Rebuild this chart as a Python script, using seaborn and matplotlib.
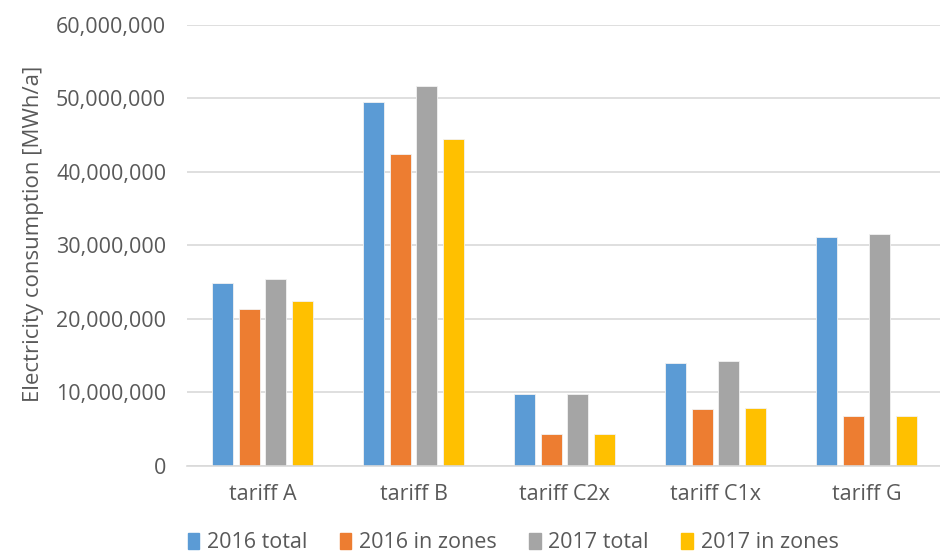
import pandas as pd
import matplotlib.pyplot as plt
import matplotlib.ticker as mticker
import seaborn as sns

# ─────────────────────────────────────────────
# data
# ─────────────────────────────────────────────
tariffs = ["tariff A", "tariff B", "tariff C2x", "tariff C1x", "tariff G"]
series_names = ["2016 total", "2016 in zones", "2017 total", "2017 in zones"]
total_2016 = [24.9e6, 49.5e6, 9.7e6, 14.0e6, 31.1e6]
zones_2016 = [21.3e6, 42.4e6, 4.3e6, 7.7e6, 6.7e6]
total_2017 = [25.4e6, 51.7e6, 9.7e6, 14.3e6, 31.5e6]
zones_2017 = [22.4e6, 44.4e6, 4.3e6, 7.9e6, 6.8e6]

colors = ["#5B9BD5", "#ED7D31", "#A5A5A5", "#FFC000"]
text_col = "#595959"
grid_col = "#D9D9D9"

rows = []
for name, vals in zip(series_names, [total_2016, zones_2016, total_2017, zones_2017]):
    for t, v in zip(tariffs, vals):
        rows.append({"tariff": t, "series": name, "value": v})
df = pd.DataFrame(rows)

sns.set_style("white")
plt.rcParams["font.family"] = ["Open Sans", "DejaVu Sans"]

fig = plt.figure(figsize=(9.4, 5.56), dpi=100)
ax = fig.add_axes([187 / 940, 90.3 / 556, 755 / 940, 441 / 556])

sns.barplot(data=df, x="tariff", y="value", hue="series", order=tariffs,
            hue_order=series_names, palette=colors, saturation=1,
            width=0.71, gap=0.22, edgecolor="#F2F2F2", linewidth=0.6,
            ax=ax, legend=False)

ax.set_ylim(0, 60e6)
ax.set_xlim(-0.5, 4.5)
ax.yaxis.set_major_locator(mticker.MultipleLocator(10e6))
ax.yaxis.set_major_formatter(mticker.FuncFormatter(lambda v, p: f"{int(v):,}"))
ax.grid(axis="y", color=grid_col, linewidth=1.2)
ax.set_axisbelow(True)
for s in ["top", "right", "left"]:
    ax.spines[s].set_visible(False)
ax.spines["bottom"].set_color(grid_col)
ax.spines["bottom"].set_linewidth(1.2)

ax.tick_params(axis="y", length=0, pad=15, labelsize=15.5, labelcolor=text_col)
ax.tick_params(axis="x", length=0, pad=13, labelsize=15.5, labelcolor=text_col)
ax.set_xlabel("")
ax.set_ylabel("Electricity consumption [MWh/a]", fontsize=16, color=text_col)
ax.yaxis.set_label_coords(-0.19, 0.525)

# legend
handles = [plt.Rectangle((0, 0), 1, 1, color=c) for c in colors]
fig.legend(handles, series_names, loc="center", bbox_to_anchor=(513 / 940, 13 / 556),
           ncol=4, frameon=False, fontsize=15.5, labelcolor=text_col,
           handlelength=0.55, handleheight=0.75, handletextpad=0.35, columnspacing=1.5)

plt.savefig("out.png", dpi=100)
plt.close()
